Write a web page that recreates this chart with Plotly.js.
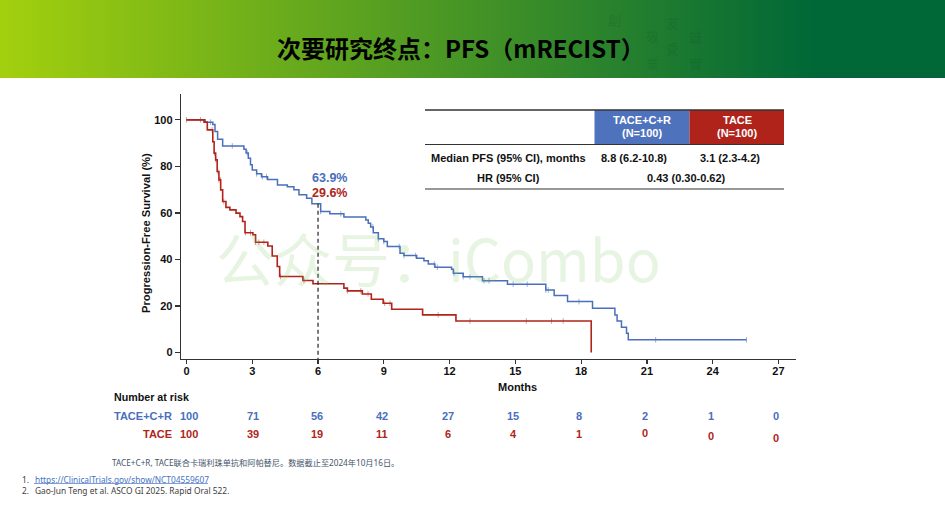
<!DOCTYPE html>
<html><head><meta charset="utf-8">
<script src="https://cdn.plot.ly/plotly-3.0.1.min.js"></script>
<style>
html,body{margin:0;padding:0;background:#fff;width:945px;height:529px;overflow:hidden}
#banner{position:absolute;left:0;top:0;width:945px;height:78px;background:linear-gradient(90deg,#a3d00e 0,#006837 86%,#006837 100%)}
#chart{position:absolute;left:0;top:0;width:945px;height:529px}
</style></head><body>
<div id="banner"></div><div id="chart"></div>
<script>
const armNames = ["TACE+C+R","TACE"];
const blueT = [0,0.85,1.2,1.3,1.42,1.65,2.62,2.72,2.82,2.92,3.0,3.2,3.42,3.7,4.15,4.6,4.9,5.13,5.48,5.72,6.12,6.54,7.18,8.18,8.29,8.4,8.52,8.75,9.0,9.16,9.74,9.92,10.5,10.83,11.03,11.33,12.09,12.17,12.62,13.5,14.64,16.39,16.77,17.38,18.52,19.54,19.64,19.84,20.07,20.15,25.54];
const blueS = [100,99,98,95,91.7,88.8,87.4,85.8,83.5,80.7,78.5,76.8,75.6,74.4,72,71.2,70,67.8,66.3,63.9,60.6,59.6,58.3,57,55.6,54,51.5,48.9,47.7,45.6,42.7,41.7,40.5,39.5,38.1,36.7,35.8,34.1,32.6,30.9,29.4,26.9,24.5,21.9,19.1,16.2,13.6,10.9,8.3,5.5,5.5];
const redT = [0,0.8,0.95,1.17,1.2,1.26,1.33,1.4,1.48,1.56,1.65,1.8,1.98,2.26,2.44,2.56,2.67,3.03,3.15,3.71,3.91,4.14,4.25,5.31,5.77,7.18,7.34,8.02,8.43,8.97,9.36,10.77,12.29,18.46,18.46];
const redS = [100,99,95.7,95.7,90.6,85.7,82.8,77.8,74.2,69.9,64.9,62.4,61.3,59.9,58.4,56.3,51.5,50.6,47.4,45.8,41.5,37,32.7,31,29.6,27.7,26.5,25.2,22.9,21.2,18.6,16.2,13.6,13.6,0];
const blueCensor = [1.1,2.09,2.77,3.2,3.46,3.65,6.12,7.04,8.5,8.75,9.0,9.7,9.92,10.45,11.3,11.44,12.2,12.62,12.93,13.57,13.8,14.9,15.54,16.39,16.5,17.9,21.4,25.54];
const redCensor = [0,0.64,1.17,1.28,1.34,1.43,1.48,1.55,1.7,2.69,2.92,3.15,3.3,3.53,4.29,5.36,7.34,7.95,8.28,9.04,9.28,11.48,12.93,15.5,16.65,17.18];
const xTicks = [0,3,6,9,12,15,18,21,24,27];
const yTicks = [0,20,40,60,80,100];
const riskBlue = [100,71,56,42,27,15,8,2,1,0];
const riskRed = [100,39,19,11,6,4,1,0,0,0];
const landmark = 6, landmarkBlue = "63.9%", landmarkRed = "29.6%";
const tableHead = ["TACE+C+R","(N=100)","TACE","(N=100)"];
const rowLabels = ["Median PFS (95% CI), months","HR (95% CI)"];
const medians = ["8.8 (6.2-10.8)","3.1 (2.3-4.2)"];
const hazard = "0.43 (0.30-0.62)";
const titleText = "次要研究终点：PFS（mRECIST）";
const watermark = "公众号：iCombo";
const footnote = "TACE+C+R, TACE联合卡瑞利珠单抗和阿帕替尼。数据截止至2024年10月16日。";
const refs = ["https://ClinicalTrials.gov/show/NCT04559607","Gao-Jun Teng et al. ASCO GI 2025. Rapid Oral 522."];
const seals = ["創","敬","業","友","愛","誠","實"];

const BLUE="#4a6fbd", RED="#b0241a";
const L=181,R=796,T=94,B=359,W=945,H=529;
const X=p=>(p-L)/(R-L), Y=p=>(B-p)/(B-T);
const SANS="Liberation Sans, Arial, sans-serif", CJK="Noto Sans CJK SC, sans-serif", NOTE="Noto Sans, Noto Sans CJK SC, sans-serif";
const at=(ts,ss,t)=>{let v=ss[0];for(let i=0;i<ts.length;i++){if(ts[i]<=t)v=ss[i];}return v;};

function note(px,py,text,o={}){
  return {xref:"paper",yref:"paper",x:X(px),y:Y(py),text,showarrow:false,xanchor:o.a||"center",yanchor:"middle",
    textangle:o.rot||0,borderpad:0,
    font:{family:o.f||SANS,size:o.s||11,color:o.c||"#111"}};
}
const b=t=>"<b>"+t+"</b>";
function rect(x0,y0,x1,y1,fill){return {type:"rect",xref:"paper",yref:"paper",x0:X(x0),x1:X(x1),y0:Y(y0),y1:Y(y1),fillcolor:fill,line:{width:0}};}
function hline(x0,x1,y,c,w){return {type:"line",xref:"paper",yref:"paper",x0:X(x0),x1:X(x1),y0:Y(y),y1:Y(y),line:{color:c,width:w}};}

const traces=[
 {x:blueT,y:blueS,mode:"lines",name:armNames[0],line:{color:BLUE,width:1.5,shape:"hv"},hoverinfo:"x+y"},
 {x:redT,y:redS,mode:"lines",name:armNames[1],line:{color:RED,width:1.6,shape:"hv"},hoverinfo:"x+y"},
 {x:blueCensor,y:blueCensor.map(t=>at(blueT,blueS,t)),mode:"markers",name:"censored",marker:{symbol:"line-ns",size:4,line:{color:"rgba(74,111,189,0.55)",width:1}},hoverinfo:"skip"},
 {x:redCensor,y:redCensor.map(t=>at(redT,redS,t)),mode:"markers",name:"censored",marker:{symbol:"line-ns",size:4,line:{color:"rgba(176,36,26,0.45)",width:1}},hoverinfo:"skip"},
 {x:[landmark,landmark],y:[at(blueT,blueS,landmark),-2.75],mode:"lines",name:"6 months",line:{color:"#222",width:1.2,dash:"4px,3px"},hoverinfo:"skip"}
];

const riskX=[189,252.5,317,382,447.5,513,579,645,711,776];
const redRiskY=[434,434,434,434,434,434,434,433,436,438];
const ann=[
 note(438,257,watermark,{f:CJK,s:58,c:"rgba(120,195,95,0.19)"}),
 note(461,47,b(titleText),{f:CJK,s:24,c:"#000"}),
 note(146,233,b("Progression-Free Survival (%)"),{rot:-90,s:11.2}),
 note(517,387,b("Months"),{s:11}),
 note(329,178,b(landmarkBlue),{s:12.5,c:BLUE}),
 note(329,193,b(landmarkRed),{s:12.5,c:RED}),
 note(642,119.5,b(tableHead[0]),{c:"#fff",s:11}),
 note(642,133,b(tableHead[1]),{c:"#fff",s:11}),
 note(737,119.5,b(tableHead[2]),{c:"#fff",s:11}),
 note(737,133,b(tableHead[3]),{c:"#fff",s:11}),
 note(508,158,b(rowLabels[0]),{s:11}),
 note(508,178,b(rowLabels[1]),{s:11}),
 note(634,158,b(medians[0]),{s:11}),
 note(730,158,b(medians[1]),{s:11}),
 note(686,178,b(hazard),{s:11}),
 note(113,397,b("Number at risk"),{a:"left",s:10.7}),
 note(173,416,b(armNames[0]),{a:"right",s:11,c:BLUE}),
 note(173,434,b(armNames[1]),{a:"right",s:11,c:RED}),
 note(111,462,footnote,{a:"left",f:NOTE,s:8.2,c:"#44546a"}),
 note(21,479,"1.",{a:"left",f:NOTE,s:8.3,c:"#404040"}),
 note(34,479,refs[0],{a:"left",f:NOTE,s:8.3,c:"#4472c4"}),
 note(21,490,"2.",{a:"left",f:NOTE,s:8.3,c:"#404040"}),
 note(34,490,refs[1],{a:"left",f:NOTE,s:8.4,c:"#404040"})
];
riskBlue.forEach((v,i)=>ann.push(note(riskX[i],416,b(v),{s:11,c:BLUE})));
riskRed.forEach((v,i)=>ann.push(note(riskX[i],redRiskY[i],b(v),{s:11,c:RED})));
const sealPos=[[614,19],[652,36],[652,63],[672,22],[672,48],[695,36],[695,63]];
seals.forEach((s,i)=>ann.push(note(sealPos[i][0],sealPos[i][1],s,{f:"Noto Sans CJK TC, sans-serif",s:13,c:"rgba(0,50,20,0.14)"})));

const shapes=[
 rect(594.5,110,689.5,144.5,"#4f72bd"),
 rect(689.5,110,784,144.5,"#b0231a"),
 hline(425,784,110,"#333",1.4),
 hline(425,784,144.5,"#333",1.2),
 hline(425,784,189,"#333",1.2),
 hline(34,208,483.5,"#4472c4",0.7)
];

const layout={
 width:W,height:H,margin:{l:L,r:W-R,t:T,b:H-B,pad:0},
 paper_bgcolor:"rgba(0,0,0,0)",plot_bgcolor:"rgba(0,0,0,0)",showlegend:false,
 xaxis:{range:[-0.25,27.8],tickvals:xTicks,ticks:"outside",ticklen:4,tickwidth:1.2,tickcolor:"#333",ticklabelstandoff:-3,
   showline:true,linecolor:"#333",linewidth:1.3,showgrid:false,zeroline:false,
   tickfont:{family:SANS,size:11,color:"#111",weight:700}},
 yaxis:{range:[-2.75,111.1],tickvals:yTicks,ticks:"outside",ticklen:5,tickwidth:1.2,tickcolor:"#333",
   showline:true,linecolor:"#333",linewidth:1.3,showgrid:false,zeroline:false,
   tickfont:{family:SANS,size:11,color:"#111",weight:700}},
 annotations:ann,shapes
};
Plotly.newPlot("chart",traces,layout,{displayModeBar:false,staticPlot:true});
</script></body></html>
